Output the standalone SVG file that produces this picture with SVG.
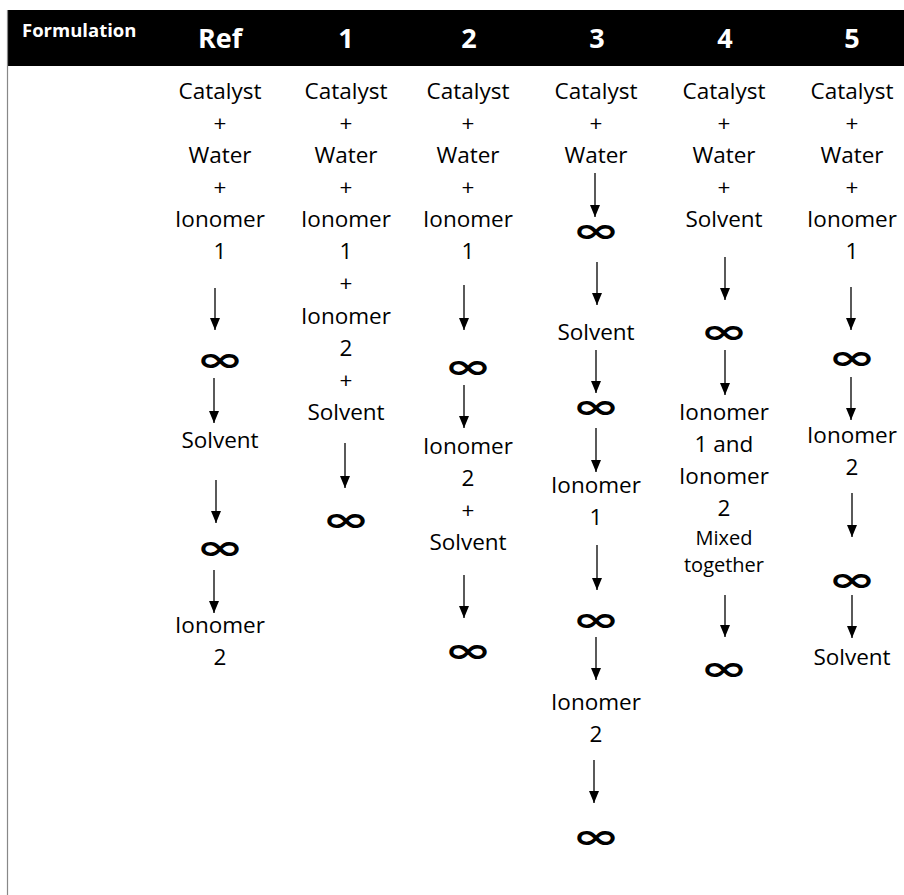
<svg xmlns="http://www.w3.org/2000/svg" width="904" height="895" viewBox="0 0 904 895">
<style>
.t{font-family:"Open Sans","Noto Sans",sans-serif;font-size:22.5px;fill:#000;text-anchor:middle}
.s{font-family:"Open Sans","Noto Sans",sans-serif;font-size:20px;fill:#000;text-anchor:middle}
.h{font-family:"Open Sans","Noto Sans",sans-serif;font-weight:bold;font-size:27px;fill:#fff;text-anchor:middle}
.hf{font-family:"Open Sans","Noto Sans",sans-serif;font-weight:bold;font-size:18.5px;fill:#fff}
.inf{font-family:"DejaVu Sans",sans-serif;font-weight:bold;font-size:48px;fill:#000;text-anchor:middle}
.c line{stroke:#000;stroke-width:1.3;marker-end:url(#ah)}
</style>
<defs>
<marker id="ah" viewBox="0 -5 12 10" refX="12" refY="0" markerWidth="12" markerHeight="10" markerUnits="userSpaceOnUse" orient="auto">
<path d="M0,-5 L12,0 L0,5 z" fill="#000"/>
</marker>
</defs>
<rect width="904" height="895" fill="#fff"/>
<g id="header">
<rect x="7" y="10" width="897" height="56" fill="#000"/>
<line x1="7.5" y1="10" x2="7.5" y2="895" stroke="#888" stroke-width="1.2"/>
<text class="hf" x="22" y="37">Formulation</text>
<text class="h" x="220" y="48">Ref</text>
<text class="h" x="346" y="48">1</text>
<text class="h" x="469" y="48">2</text>
<text class="h" x="597" y="48">3</text>
<text class="h" x="725" y="48">4</text>
<text class="h" x="852" y="48">5</text>
</g>
<g id="col-ref">
<text class="t" x="220" y="99">Catalyst</text>
<text class="t" x="220" y="131">+</text>
<text class="t" x="220" y="163">Water</text>
<text class="t" x="220" y="195">+</text>
<text class="t" x="220" y="227">Ionomer</text>
<text class="t" x="220" y="259">1</text>
<text class="inf" transform="translate(220,360) scale(1.2,0.7)" y="15">∞</text>
<text class="t" x="220" y="448">Solvent</text>
<text class="inf" transform="translate(220,548) scale(1.2,0.7)" y="15">∞</text>
<text class="t" x="220" y="633">Ionomer</text>
<text class="t" x="220" y="665">2</text>
</g>
<g id="col-1">
<text class="t" x="346" y="99">Catalyst</text>
<text class="t" x="346" y="131">+</text>
<text class="t" x="346" y="163">Water</text>
<text class="t" x="346" y="195">+</text>
<text class="t" x="346" y="227">Ionomer</text>
<text class="t" x="346" y="259">1</text>
<text class="t" x="346" y="291">+</text>
<text class="t" x="346" y="324">Ionomer</text>
<text class="t" x="346" y="356">2</text>
<text class="t" x="346" y="388">+</text>
<text class="t" x="346" y="420">Solvent</text>
<text class="inf" transform="translate(346,520) scale(1.2,0.7)" y="15">∞</text>
</g>
<g id="col-2">
<text class="t" x="468" y="99">Catalyst</text>
<text class="t" x="468" y="131">+</text>
<text class="t" x="468" y="163">Water</text>
<text class="t" x="468" y="195">+</text>
<text class="t" x="468" y="227">Ionomer</text>
<text class="t" x="468" y="259">1</text>
<text class="inf" transform="translate(468,367) scale(1.2,0.7)" y="15">∞</text>
<text class="t" x="468" y="454">Ionomer</text>
<text class="t" x="468" y="486">2</text>
<text class="t" x="468" y="518">+</text>
<text class="t" x="468" y="550">Solvent</text>
<text class="inf" transform="translate(468,651) scale(1.2,0.7)" y="15">∞</text>
</g>
<g id="col-3">
<text class="t" x="596" y="99">Catalyst</text>
<text class="t" x="596" y="131">+</text>
<text class="t" x="596" y="163">Water</text>
<text class="inf" transform="translate(596,231) scale(1.2,0.7)" y="15">∞</text>
<text class="t" x="596" y="340">Solvent</text>
<text class="inf" transform="translate(596,407) scale(1.2,0.7)" y="15">∞</text>
<text class="t" x="596" y="493">Ionomer</text>
<text class="t" x="596" y="525">1</text>
<text class="inf" transform="translate(596,620) scale(1.2,0.7)" y="15">∞</text>
<text class="t" x="596" y="710">Ionomer</text>
<text class="t" x="596" y="742">2</text>
<text class="inf" transform="translate(596,837) scale(1.2,0.7)" y="15">∞</text>
</g>
<g id="col-4">
<text class="t" x="724" y="99">Catalyst</text>
<text class="t" x="724" y="131">+</text>
<text class="t" x="724" y="163">Water</text>
<text class="t" x="724" y="195">+</text>
<text class="t" x="724" y="227">Solvent</text>
<text class="inf" transform="translate(724,332) scale(1.2,0.7)" y="15">∞</text>
<text class="t" x="724" y="420">Ionomer</text>
<text class="t" x="724" y="452">1 and</text>
<text class="t" x="724" y="484">Ionomer</text>
<text class="t" x="724" y="516">2</text>
<text class="s" x="724" y="545">Mixed</text>
<text class="s" x="724" y="572">together</text>
<text class="inf" transform="translate(724,669) scale(1.2,0.7)" y="15">∞</text>
</g>
<g id="col-5">
<text class="t" x="852" y="99">Catalyst</text>
<text class="t" x="852" y="131">+</text>
<text class="t" x="852" y="163">Water</text>
<text class="t" x="852" y="195">+</text>
<text class="t" x="852" y="227">Ionomer</text>
<text class="t" x="852" y="259">1</text>
<text class="inf" transform="translate(852,358) scale(1.2,0.7)" y="15">∞</text>
<text class="t" x="852" y="443">Ionomer</text>
<text class="t" x="852" y="475">2</text>
<text class="inf" transform="translate(852,580) scale(1.2,0.7)" y="15">∞</text>
<text class="t" x="852" y="665">Solvent</text>
</g>
<g id="connectors" class="c">
<line x1="215" y1="288" x2="215" y2="330"/>
<line x1="214" y1="378" x2="214" y2="423"/>
<line x1="216" y1="480" x2="216" y2="523"/>
<line x1="214" y1="570" x2="214" y2="613"/>
<line x1="345" y1="443" x2="345" y2="488"/>
<line x1="464" y1="285" x2="464" y2="330"/>
<line x1="464" y1="385" x2="464" y2="428"/>
<line x1="464" y1="575" x2="464" y2="618"/>
<line x1="595" y1="173" x2="595" y2="217"/>
<line x1="597" y1="262" x2="597" y2="305"/>
<line x1="596" y1="350" x2="596" y2="393"/>
<line x1="596" y1="428" x2="596" y2="472"/>
<line x1="597" y1="545" x2="597" y2="590"/>
<line x1="596" y1="637" x2="596" y2="680"/>
<line x1="594" y1="760" x2="594" y2="803"/>
<line x1="725" y1="257" x2="725" y2="300"/>
<line x1="725" y1="350" x2="725" y2="395"/>
<line x1="725" y1="595" x2="725" y2="637"/>
<line x1="851" y1="287" x2="851" y2="330"/>
<line x1="851" y1="377" x2="851" y2="420"/>
<line x1="852" y1="493" x2="852" y2="537"/>
<line x1="852" y1="595" x2="852" y2="638"/>
</g>
</svg>
